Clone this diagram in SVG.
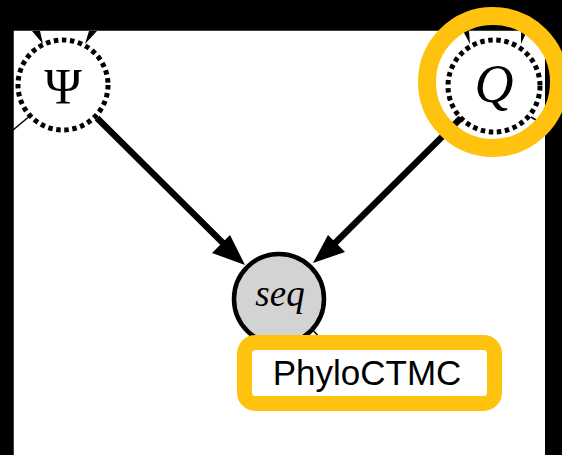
<svg xmlns="http://www.w3.org/2000/svg" width="562" height="455" viewBox="0 0 562 455">
<defs>
<style>
.dot{fill:#fff;stroke:#000;stroke-width:5;stroke-dasharray:4.5 3.6}
.edge{stroke:#000;stroke-width:6.5;fill:none}
.thin{stroke:#000;stroke-width:1.5;fill:none}
.head{fill:#000}
.math{font-family:"Liberation Serif",serif;font-style:italic;fill:#000;text-anchor:middle}
.hl{fill:none;stroke:#FFC20E}
</style>
</defs>
<rect x="0" y="0" width="562" height="455" fill="#000"/>
<rect x="13.5" y="30.5" width="531.5" height="424.5" fill="#fff"/>
<g id="connectors">
<line class="edge" x1="97" y1="118" x2="230" y2="250"/>
<polygon class="head" points="245,265 212,253 221,244 230,235"/>
<line class="edge" x1="461" y1="118" x2="328" y2="250"/>
<polygon class="head" points="313,263 328,235 337,244 345,252"/>
<polygon class="head" points="32,31 40,31 43,44"/>
<polygon class="head" points="89,31 97,31 85,44"/>
<polygon class="head" points="463,31 469,31 470,44"/>
<polygon class="head" points="521,31 527,31 521,44"/>
<line class="thin" x1="13" y1="130" x2="31" y2="115"/>
<line class="thin" x1="531" y1="117" x2="546" y2="126"/>
<line class="thin" x1="312" y1="329" x2="319" y2="337"/>
</g>
<g id="psi">
<circle class="dot" cx="63" cy="85" r="45"/>
<text x="63" y="103" font-family="Liberation Serif, serif" font-size="51" text-anchor="middle">Ψ</text>
</g>
<g id="q">
<circle class="dot" cx="494" cy="86" r="46"/>
<text class="math" x="494" y="102" font-size="54">Q</text>
</g>
<g id="seq">
<circle cx="279" cy="299" r="45" fill="#d3d3d3" stroke="#000" stroke-width="4.5"/>
<text class="math" x="280" y="306" font-size="37">seq</text>
</g>
<rect x="0" y="0" width="562" height="30.5" fill="#000"/>
<rect x="545" y="0" width="17" height="455" fill="#000"/>
<rect x="0" y="0" width="13.5" height="455" fill="#000"/>
<g id="highlight-q">
<circle class="hl" cx="493" cy="82" r="66" stroke-width="18"/>
</g>
<g id="phyloctmc">
<rect x="244.5" y="342.5" width="250" height="61" rx="11" fill="#fff" stroke="#FFC20E" stroke-width="15"/>
<text x="367" y="385" font-family="Liberation Sans, Arial, sans-serif" font-size="35" text-anchor="middle" fill="#000">PhyloCTMC</text>
</g>
</svg>
